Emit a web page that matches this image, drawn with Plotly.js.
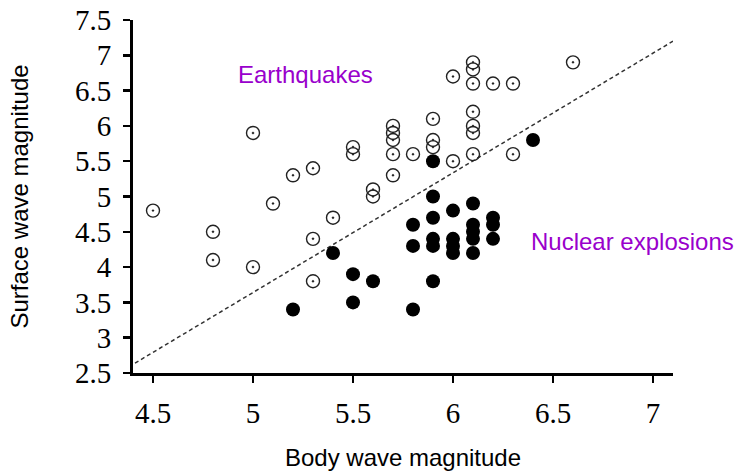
<!DOCTYPE html>
<html>
<head>
<meta charset="utf-8">
<script src="https://cdn.plot.ly/plotly-3.0.1.min.js"></script>
<style>html,body{margin:0;padding:0;background:#fff;}#chart{width:736px;height:474px;}</style>
</head>
<body>
<div id="chart"></div>
<script>
// Earthquakes (open circles)
const quakeBody = [4.5,4.8,4.8,5.0,5.0,5.1,5.2,5.3,5.3,5.3,5.4,5.5,5.5,5.6,5.6,5.7,5.7,5.7,5.7,5.7,5.8,5.9,5.9,5.9,6.0,6.0,6.1,6.1,6.1,6.1,6.1,6.1,6.1,6.2,6.3,6.3,6.6];
const quakeSurface = [4.8,4.5,4.1,4.0,5.9,4.9,5.3,5.4,4.4,3.8,4.7,5.7,5.6,5.1,5.0,6.0,5.9,5.8,5.6,5.3,5.6,6.1,5.8,5.7,6.7,5.5,6.9,6.8,6.6,6.2,6.0,5.9,5.6,6.6,6.6,5.6,6.9];
// Nuclear explosions (filled circles)
const nukeBody = [5.2,5.4,5.5,5.5,5.6,5.8,5.8,5.8,5.9,5.9,5.9,5.9,5.9,5.9,6.0,6.0,6.0,6.0,6.1,6.1,6.1,6.1,6.1,6.2,6.2,6.2,6.4];
const nukeSurface = [3.4,4.2,3.9,3.5,3.8,4.6,4.3,3.4,5.5,5.0,4.7,4.4,4.3,3.8,4.8,4.4,4.3,4.2,4.9,4.6,4.5,4.4,4.2,4.7,4.6,4.4,5.8];
// Dividing line
const dividerBody = [4.41, 7.1];
const dividerSurface = [2.64, 7.2];
const xTicks = [4.5, 5, 5.5, 6, 6.5, 7];
const yTicks = [2.5, 3, 3.5, 4, 4.5, 5, 5.5, 6, 6.5, 7, 7.5];

const traces = [
  {x: dividerBody, y: dividerSurface, mode: 'lines', type: 'scatter',
   line: {color: '#333', width: 1.5, dash: '4px,3px'}, hoverinfo: 'skip', cliponaxis: false},
  {x: quakeBody, y: quakeSurface, mode: 'markers', type: 'scatter', name: 'Earthquakes',
   marker: {symbol: 'circle-open-dot', size: 13, color: '#222', line: {width: 1.4, color: '#222'}}},
  {x: nukeBody, y: nukeSurface, mode: 'markers', type: 'scatter', name: 'Nuclear explosions',
   marker: {symbol: 'circle', size: 14, color: '#000'}}
];

const tickFont = {family: 'Liberation Serif, Times New Roman, serif', size: 29, color: '#000'};
const titleFont = {family: 'Liberation Sans, Arial, sans-serif', size: 24, color: '#000'};
const noteFont = {family: 'Liberation Sans, Arial, sans-serif', size: 24, color: '#9900cc'};

const layout = {
  width: 736, height: 474,
  margin: {l: 133, r: 63, t: 20, b: 101},
  paper_bgcolor: '#fff', plot_bgcolor: '#fff',
  showlegend: false,
  xaxis: {
    range: [4.4, 7.1], tickvals: xTicks, ticktext: xTicks.map(String),
    showgrid: false, zeroline: false, showline: true, linecolor: '#000', linewidth: 3,
    ticks: 'outside', ticklen: 7, tickwidth: 2.5, tickcolor: '#000',
    tickfont: tickFont, ticklabelstandoff: 5,
    title: {text: 'Body wave magnitude', font: titleFont, standoff: 22}
  },
  yaxis: {
    range: [2.5, 7.5], tickvals: yTicks, ticktext: yTicks.map(String),
    showgrid: false, zeroline: false, showline: true, linecolor: '#000', linewidth: 3,
    ticks: 'outside', ticklen: 7, tickwidth: 2.5, tickcolor: '#000',
    tickfont: tickFont, ticklabelstandoff: 6,
    title: {text: 'Surface wave magnitude', font: titleFont, standoff: 40}
  },
  annotations: [
    {x: 5.26, y: 6.73, xref: 'x', yref: 'y', text: 'Earthquakes', showarrow: false, font: noteFont},
    {x: 6.38, y: 4.36, xref: 'x', yref: 'y', xanchor: 'left', text: 'Nuclear explosions', showarrow: false, font: noteFont}
  ]
};

Plotly.newPlot('chart', traces, layout, {displayModeBar: false, staticPlot: true});
</script>
</body>
</html>
